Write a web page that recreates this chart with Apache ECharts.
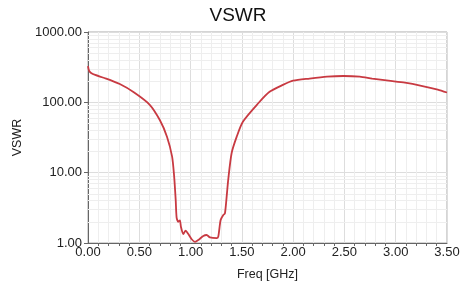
<!DOCTYPE html>
<html>
<head>
<meta charset="utf-8">
<style>
  html, body { margin: 0; padding: 0; background: #fff; }
  #main-chart { width: 463px; height: 288px; }
</style>
<script src="https://cdn.jsdelivr.net/npm/echarts@6/dist/echarts.min.js"></script>
</head>
<body>
<div id="main-chart"></div>
<script>
// frequency (GHz) and VSWR
const freq = [0, 0.01, 0.03, 0.07, 0.16, 0.31, 0.45, 0.60, 0.70, 0.77, 0.82, 0.84, 0.855, 0.864,
  0.88, 0.896, 0.906, 0.929, 0.952, 0.978, 1.011, 1.043, 1.075, 1.124, 1.157, 1.189, 1.254,
  1.27, 1.293, 1.319, 1.335, 1.352, 1.367, 1.40, 1.45, 1.51, 1.66, 1.77, 1.90, 2.00, 2.16,
  2.33, 2.49, 2.65, 2.77, 2.93, 3.09, 3.25, 3.41, 3.50];
const vswr = [327, 283, 262, 245, 222, 182, 138, 93, 56, 32.5, 16.9, 8.8, 4.1, 2.3,
  2.0, 2.1, 1.7, 1.34, 1.5, 1.34, 1.13, 1.04, 1.10, 1.26, 1.30, 1.20, 1.17,
  1.23, 2.12, 2.5, 2.64, 4.6, 7.9, 18.9, 32.5, 53, 97, 141, 177, 203, 218,
  232, 237, 232, 218, 203, 190, 172, 152, 138];

// minor log grid lines (2..9 in each decade)
const minorLevels = [2, 3, 4, 5, 6, 7, 8, 9, 20, 30, 40, 50, 60, 70, 80, 90,
  200, 300, 400, 500, 600, 700, 800, 900];

const font = "Liberation Sans, Arial, sans-serif";

const chart = echarts.init(document.getElementById("main-chart"));

chart.setOption({
  animation: false,
  title: {
    text: "VSWR",
    left: 233,
    top: 1,
    textAlign: "center",
    textStyle: { fontFamily: font, fontSize: 19, fontWeight: "normal", color: "#111" }
  },
  grid: {
    left: 88,
    right: 16,
    top: 32,
    bottom: 45,
    show: true,
    borderColor: "#aaa",
    borderWidth: 1
  },
  xAxis: {
    type: "value",
    min: 0,
    max: 3.5,
    interval: 0.5,
    name: "Freq [GHz]",
    nameLocation: "middle",
    nameGap: 25,
    nameTextStyle: { fontFamily: font, fontSize: 12.5, color: "#222" },
    axisLine: { onZero: false, lineStyle: { color: "#666" } },
    axisTick: { show: false },
    minorTick: { show: true, splitNumber: 5, length: 3, lineStyle: { color: "#666" } },
    axisLabel: {
      fontFamily: font, fontSize: 13, color: "#222", margin: 3,
      formatter: v => v.toFixed(2)
    },
    splitLine: { show: true, lineStyle: { color: "#ddd" } },
    minorSplitLine: { show: true, lineStyle: { color: "#eee" } }
  },
  yAxis: {
    type: "log",
    logBase: 10,
    min: 1,
    max: 1000,
    name: "VSWR",
    nameLocation: "middle",
    nameGap: 64,
    nameTextStyle: { fontFamily: font, fontSize: 12.5, color: "#222" },
    axisLine: { show: true, lineStyle: { color: "#666" } },
    axisTick: { show: true, length: 4, lineStyle: { color: "#666" } },
    axisLabel: {
      fontFamily: font, fontSize: 13, color: "#222", margin: 6,
      formatter: v => v.toFixed(2)
    },
    splitLine: { show: true, lineStyle: { color: "#ddd" } }
  },
  series: [
    {
      // carrier for the minor log grid lines, kept underneath the curve
      type: "line",
      data: [],
      silent: true,
      z: 1,
      markLine: {
        silent: true,
        symbol: "none",
        label: { show: false },
        lineStyle: { color: "#eee", type: "solid", width: 1 },
        data: minorLevels.map(v => ({ yAxis: v }))
      }
    },
    {
      type: "line",
      data: freq.map((f, i) => [f, vswr[i]]),
      showSymbol: false,
      smooth: 0.25,
      lineStyle: { color: "#c83a42", width: 1.8 },
      z: 5
    }
  ]
});
</script>
</body>
</html>
